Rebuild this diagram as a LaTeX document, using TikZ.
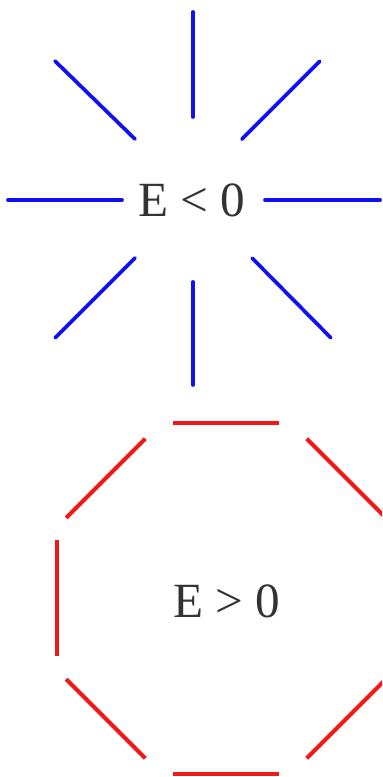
\documentclass[tikz,border=0pt]{standalone}
\usepackage{fontspec}
\setmainfont{Liberation Serif}
\usetikzlibrary{positioning}
\definecolor{enBound}{HTML}{1010F0}
\definecolor{enFree}{HTML}{F01818}
\tikzset{
  ray/.style={draw=enBound, line width=2.1pt, line cap=round},
  side/.style={draw=enFree, line width=2.3pt, line cap=butt},
  elabel/.style={font=\fontsize{28}{30}\selectfont, inner sep=0pt,
    text height=18.5pt, text depth=0pt, text=black!80}
}
\begin{document}
\begin{tikzpicture}[x=0.02cm, y=0.02cm]
  \clip (0,0) rectangle (382,777);
  \fill[white] (0,0) rectangle (382,777);
  % bound state: rays
  \coordinate (star) at (193,577);
  \node[elabel] (neg) at (192,577) {E < 0};
  \foreach \ti/\r/\to/\R in {0/72/0/187, 51.2/78/47.6/188, 90/83/90/188,
                             133.6/84/134.8/196, 180/71/180/185, 225/82/225/195,
                             270/82/270/185, 315.5/83/315/195}
    \draw[ray] ([shift={(\ti:\r)}]star) -- ([shift={(\to:\R)}]star);
  % free state: open octagon
  \coordinate (oct) at (226,178.5);
  \node[elabel] (pos) at (226.5,175.5) {E > 0};
  \foreach \t/\a/\h in {0/169/58, 45/170/56, 90/175.5/53, 135/170/56,
                        180/169/58, 225/170/56, 270/175.5/53, 315/170/56}
    \draw[side, shift={(oct)}, rotate=\t] (\a,-\h) -- (\a,\h);
\end{tikzpicture}
\end{document}
